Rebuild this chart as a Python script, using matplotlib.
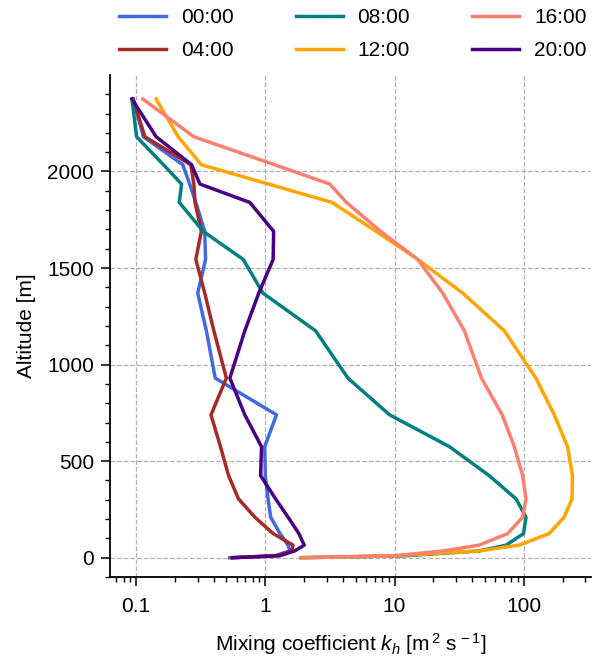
import numpy as np
import matplotlib
matplotlib.use("Agg")
import matplotlib.pyplot as plt

plt.rcParams['font.family'] = ['Liberation Sans', 'DejaVu Sans']
plt.rcParams['mathtext.fontset'] = 'custom'
plt.rcParams['mathtext.rm'] = 'Liberation Sans'
plt.rcParams['mathtext.it'] = 'Liberation Sans:italic'
plt.rcParams['font.size'] = 15

# altitude levels [m]
alt = [0, 10, 35, 65, 125, 210, 305, 425, 575, 740, 930, 1175, 1370,
       1545, 1690, 1840, 1935, 2035, 2180, 2375]

# mixing coefficient kh [m2 s-1] per hour
k00 = [0.53, 1.2, 1.55, 1.5, 1.3, 1.1, 1.05, 1.0, 0.99, 1.22, 0.41, 0.35, 0.30,
       0.345, 0.34, 0.29, 0.26, 0.23, 0.114, 0.095]
k04 = [0.55, 1.2, 1.6, 1.64, 1.15, 0.83, 0.62, 0.52, 0.45, 0.38, 0.50, 0.40, 0.34,
       0.29, 0.32, 0.286, 0.28, 0.265, 0.117, 0.095]
k08 = [1.9, 12, 45, 73, 99.5, 104, 87, 54, 26.6, 9.15, 4.36, 2.45, 0.96,
       0.674, 0.331, 0.216, 0.225, 0.163, 0.101, 0.093]
k12 = [1.9, 10, 45, 92, 157, 205, 236, 238, 218, 172, 124, 70.7, 33.7,
       15.1, 7.2, 3.28, 1.06, 0.32, 0.212, 0.143]
k16 = [1.87, 10, 23.6, 45, 75, 98, 104, 98, 84.5, 68, 47, 34.7, 23.6,
       15.1, 7.8, 4.24, 3.15, 1.18, 0.28, 0.113]
k20 = [0.56, 1.29, 1.69, 2.0, 1.82, 1.5, 1.2, 0.92, 0.935, 0.694, 0.532, 0.694, 0.89,
       1.15, 1.16, 0.759, 0.312, 0.269, 0.143, 0.093]

hours = ['00:00', '04:00', '08:00', '12:00', '16:00', '20:00']
colors = ['royalblue', 'brown', 'teal', 'orange', 'salmon', 'indigo']
series = [k00, k04, k08, k12, k16, k20]

fig = plt.figure(figsize=(5.92, 6.65), dpi=100)
ax = fig.add_axes([0.186, 0.1323, 0.812, 0.755])

for k, c, lab in zip(series, colors, hours):
    ax.plot(k, alt, color=c, lw=2.5, label=lab)

ax.set_xscale('log')
ax.set_xlim(0.063, 330)
ax.set_ylim(-100, 2500)
ax.set_xticks([0.1, 1, 10, 100])
ax.set_xticklabels(['0.1', '1', '10', '100'])
ax.set_yticks([0, 500, 1000, 1500, 2000])
ax.set_yticks(np.arange(-100, 2500, 100), minor=True)
ax.tick_params(which='major', length=6.5, width=1.1, pad=5)
ax.tick_params(axis='x', which='major', pad=8)
ax.tick_params(which='minor', length=3.5, width=1.0)
ax.grid(True, which='major', ls='--', color='#b0b0b0', lw=0.9)
for s in ['top', 'right']:
    ax.spines[s].set_visible(False)
for s in ['left', 'bottom']:
    ax.spines[s].set_linewidth(1.3)

ax.set_ylabel('Altitude [m]', labelpad=8)
ax.set_xlabel(r'Mixing coefficient $k_h$ [m$^{\,2}$ s$^{\,-1}$]', labelpad=11)

fig.legend(loc='upper center', bbox_to_anchor=(0.596, 1.0), ncol=3, frameon=False,
           handlelength=2.25, handletextpad=0.7, columnspacing=3.0, labelspacing=0.65,
           borderaxespad=0.0)

fig.savefig('out.png', dpi=100)
